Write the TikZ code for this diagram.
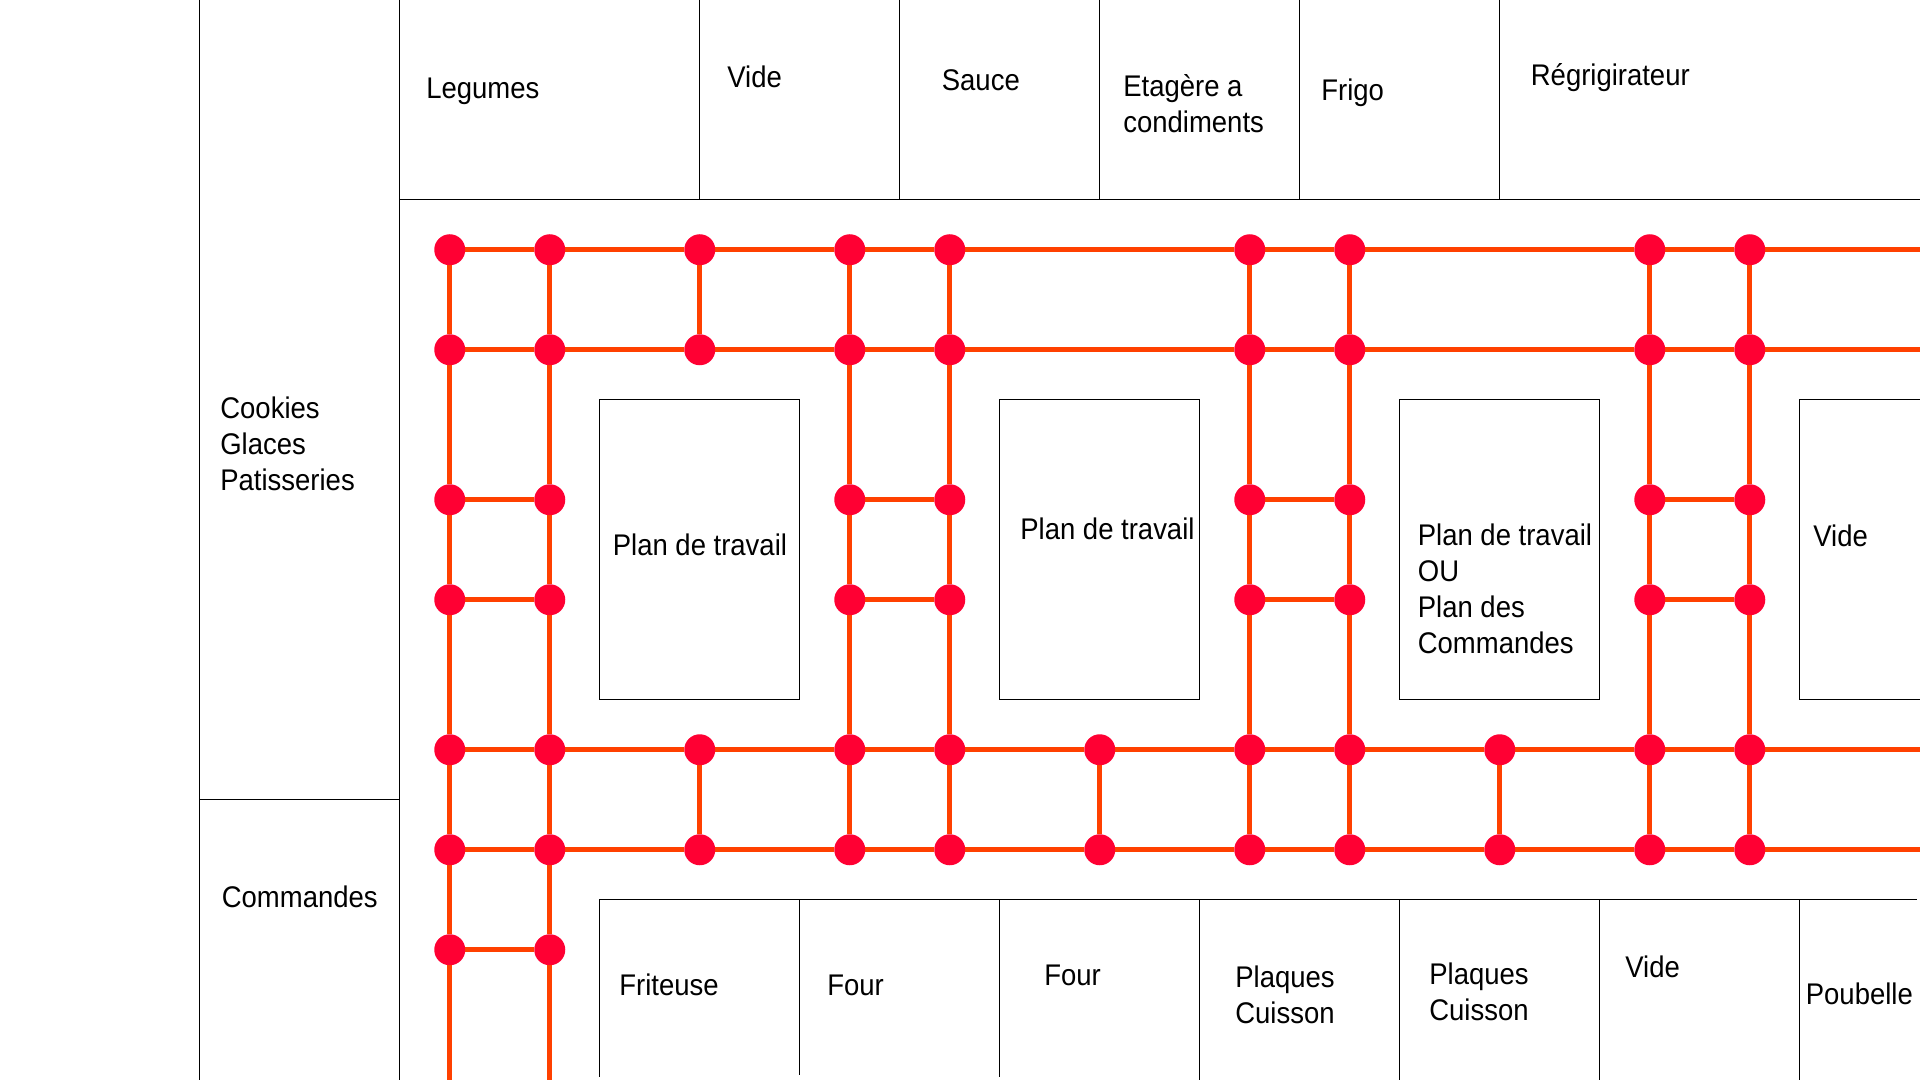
\documentclass[tikz,border=0pt]{standalone}
\usepackage{fontspec}
\setmainfont[FakeStretch=0.92]{Liberation Sans}
\usepackage{tikz}
\usetikzlibrary{arrows,positioning}
\definecolor{railcolor}{HTML}{FF4000}
\definecolor{stopcolor}{HTML}{FF0033}
\tikzset{
    stopnode/.style={circle,fill=stopcolor,minimum size=0.62cm,inner sep=0pt,outer sep=0pt},
    far/.style={node distance=3cm},
    rail/.style={draw=railcolor,line width=0.1cm},
    wall/.style={draw=black,line width=0.021cm,xshift=-0.01cm,yshift=0.01cm},
    label/.style={anchor=west,align=left,inner sep=0pt,text=black,font=\fontsize{17}{20.4}\selectfont}
}
\begin{document}
\begin{tikzpicture}[node distance=2cm,on grid,auto]

        \useasboundingbox (0,0) rectangle (38.4,-21.6);

        \draw[wall] (4,0) -- (4,-21.6);
        \draw[wall] (8,0) -- (8,-21.6);
        \draw[wall] (4,-16) -- (8,-16);
        \draw[wall] (8,-4) -- (38.4,-4);
        \draw[wall] (14,0) -- (14,-4);
        \draw[wall] (18,0) -- (18,-4);
        \draw[wall] (22,0) -- (22,-4);
        \draw[wall] (26,0) -- (26,-4);
        \draw[wall] (30,0) -- (30,-4);

        \draw[wall] (12,-8) rectangle (16,-14);
        \draw[wall] (20,-8) rectangle (24,-14);
        \draw[wall] (28,-8) rectangle (32,-14);
        \draw[wall] (38.4,-8) -- (36,-8) -- (36,-14) -- (38.4,-14);

        \draw[wall] (12,-21.54) -- (12,-18) -- (38.34,-18);
        \draw[wall] (16,-18) -- (16,-21.5);
        \draw[wall] (20,-18) -- (20,-21.54);
        \draw[wall] (24,-18) -- (24,-21.6);
        \draw[wall] (28,-18) -- (28,-21.6);
        \draw[wall] (32,-18) -- (32,-21.6);
        \draw[wall] (36,-18) -- (36,-21.6);

        \node[label] (t_legumes) at (8.52,-1.83) {Legumes};
        \node[label] (t_vide1) at (14.54,-1.54) {Vide};
        \node[label] (t_sauce) at (18.83,-1.6) {Sauce};
        \node[label] (t_etagere) at (22.46,-2.08) {Etagère a\\condiments};
        \node[label] (t_frigo) at (26.42,-1.85) {Frigo};
        \node[label] (t_regri) at (30.61,-1.55) {Régrigirateur};
        \node[label] (t_cookies) at (4.4,-8.88) {Cookies\\Glaces\\Patisseries};
        \node[label] (t_commandes) at (4.43,-17.94) {Commandes};
        \node[label] (t_plan1) at (12.25,-10.89) {Plan de travail};
        \node[label] (t_plan2) at (20.4,-10.58) {Plan de travail};
        \node[label] (t_plan3) at (28.35,-11.78) {Plan de travail\\OU\\Plan des\\Commandes};
        \node[label] (t_vide2) at (36.26,-10.72) {Vide};
        \node[label] (t_friteuse) at (12.38,-19.7) {Friteuse};
        \node[label] (t_four1) at (16.54,-19.7) {Four};
        \node[label] (t_four2) at (20.88,-19.5) {Four};
        \node[label] (t_plaques1) at (24.7,-19.9) {Plaques\\Cuisson};
        \node[label] (t_plaques2) at (28.58,-19.84) {Plaques\\Cuisson};
        \node[label] (t_vide3) at (32.5,-19.34) {Vide};
        \node[label] (t_poubelle) at (36.11,-19.88) {Poubelle};

        \node[stopnode] (A1) at (8.995,-4.995) {};
        \node[stopnode] (B1) [right of=A1] {};
        \node[stopnode] (C1) [right of=B1,far] {};
        \node[stopnode] (D1) [right of=C1,far] {};
        \node[stopnode] (E1) [right of=D1] {};
        \node[stopnode] (G1) [right of=E1,node distance=6cm] {};
        \node[stopnode] (H1) [right of=G1] {};
        \node[stopnode] (J1) [right of=H1,node distance=6cm] {};
        \node[stopnode] (K1) [right of=J1] {};

        \node[stopnode] (A2) [below of=A1] {};
        \node[stopnode] (B2) [below of=B1] {};
        \node[stopnode] (C2) [below of=C1] {};
        \node[stopnode] (D2) [below of=D1] {};
        \node[stopnode] (E2) [below of=E1] {};
        \node[stopnode] (G2) [below of=G1] {};
        \node[stopnode] (H2) [below of=H1] {};
        \node[stopnode] (J2) [below of=J1] {};
        \node[stopnode] (K2) [below of=K1] {};

        \node[stopnode] (A3) [below of=A2,far] {};
        \node[stopnode] (B3) [below of=B2,far] {};
        \node[stopnode] (D3) [below of=D2,far] {};
        \node[stopnode] (E3) [below of=E2,far] {};
        \node[stopnode] (G3) [below of=G2,far] {};
        \node[stopnode] (H3) [below of=H2,far] {};
        \node[stopnode] (J3) [below of=J2,far] {};
        \node[stopnode] (K3) [below of=K2,far] {};

        \node[stopnode] (A4) [below of=A3] {};
        \node[stopnode] (B4) [below of=B3] {};
        \node[stopnode] (D4) [below of=D3] {};
        \node[stopnode] (E4) [below of=E3] {};
        \node[stopnode] (G4) [below of=G3] {};
        \node[stopnode] (H4) [below of=H3] {};
        \node[stopnode] (J4) [below of=J3] {};
        \node[stopnode] (K4) [below of=K3] {};

        \node[stopnode] (A5) [below of=A4,far] {};
        \node[stopnode] (B5) [below of=B4,far] {};
        \node[stopnode] (C5) [right of=B5,far] {};
        \node[stopnode] (D5) [below of=D4,far] {};
        \node[stopnode] (E5) [below of=E4,far] {};
        \node[stopnode] (F5) [right of=E5,far] {};
        \node[stopnode] (G5) [below of=G4,far] {};
        \node[stopnode] (H5) [below of=H4,far] {};
        \node[stopnode] (I5) [right of=H5,far] {};
        \node[stopnode] (J5) [below of=J4,far] {};
        \node[stopnode] (K5) [below of=K4,far] {};

        \node[stopnode] (A6) [below of=A5] {};
        \node[stopnode] (B6) [below of=B5] {};
        \node[stopnode] (C6) [below of=C5] {};
        \node[stopnode] (D6) [below of=D5] {};
        \node[stopnode] (E6) [below of=E5] {};
        \node[stopnode] (F6) [below of=F5] {};
        \node[stopnode] (G6) [below of=G5] {};
        \node[stopnode] (H6) [below of=H5] {};
        \node[stopnode] (I6) [below of=I5] {};
        \node[stopnode] (J6) [below of=J5] {};
        \node[stopnode] (K6) [below of=K5] {};

        \node[stopnode] (A7) [below of=A6] {};
        \node[stopnode] (B7) [below of=B6] {};

        \coordinate (rightside) at (38.4,-21.6);
        \coordinate (end1) at (K1 -| rightside);
        \coordinate (end2) at (K2 -| rightside);
        \coordinate (end5) at (K5 -| rightside);
        \coordinate (end6) at (K6 -| rightside);
        \coordinate (endA) at (A7 |- rightside);
        \coordinate (endB) at (B7 |- rightside);

        \path[rail]
        (A1) edge (B1) edge (A2)
        (B1) edge (C1) edge (B2)
        (C1) edge (D1) edge (C2)
        (D1) edge (E1) edge (D2)
        (E1) edge (G1) edge (E2)
        (G1) edge (H1) edge (G2)
        (H1) edge (J1) edge (H2)
        (J1) edge (K1) edge (J2)
        (K1) edge (end1) edge (K2)
        (A2) edge (B2) edge (A3)
        (B2) edge (C2) edge (B3)
        (C2) edge (D2)
        (D2) edge (E2) edge (D3)
        (E2) edge (G2) edge (E3)
        (G2) edge (H2) edge (G3)
        (H2) edge (J2) edge (H3)
        (J2) edge (K2) edge (J3)
        (K2) edge (end2) edge (K3)
        (A3) edge (B3) edge (A4)
        (B3) edge (B4)
        (D3) edge (E3) edge (D4)
        (E3) edge (E4)
        (G3) edge (H3) edge (G4)
        (H3) edge (H4)
        (J3) edge (K3) edge (J4)
        (K3) edge (K4)
        (A4) edge (B4) edge (A5)
        (B4) edge (B5)
        (D4) edge (E4) edge (D5)
        (E4) edge (E5)
        (G4) edge (H4) edge (G5)
        (H4) edge (H5)
        (J4) edge (K4) edge (J5)
        (K4) edge (K5)
        (A5) edge (B5) edge (A6)
        (B5) edge (C5) edge (B6)
        (C5) edge (D5) edge (C6)
        (D5) edge (E5) edge (D6)
        (E5) edge (F5) edge (E6)
        (F5) edge (G5) edge (F6)
        (G5) edge (H5) edge (G6)
        (H5) edge (I5) edge (H6)
        (I5) edge (J5) edge (I6)
        (J5) edge (K5) edge (J6)
        (K5) edge (end5) edge (K6)
        (A6) edge (B6) edge (A7)
        (B6) edge (C6) edge (B7)
        (C6) edge (D6)
        (D6) edge (E6)
        (E6) edge (F6)
        (F6) edge (G6)
        (G6) edge (H6)
        (H6) edge (I6)
        (I6) edge (J6)
        (J6) edge (K6)
        (K6) edge (end6)
        (A7) edge (B7) edge (endA)
        (B7) edge (endB);

    \end{tikzpicture}
\end{document}
